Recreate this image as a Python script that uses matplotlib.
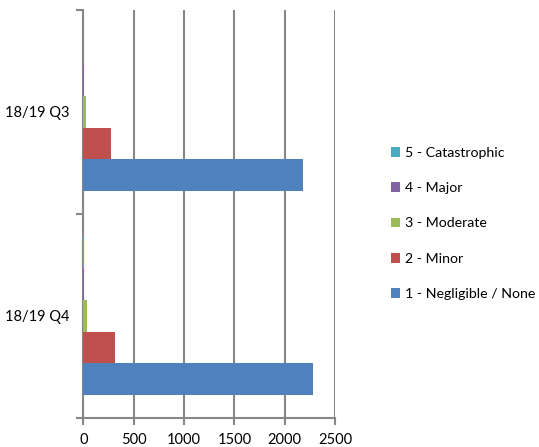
import matplotlib
matplotlib.use("Agg")
import matplotlib.pyplot as plt
from matplotlib.patches import Patch
import numpy as np

plt.rcParams['font.family'] = ['Lato', 'DejaVu Sans']

categories = ["18/19 Q4", "18/19 Q3"]
series_names = ["1 - Negligible / None", "2 - Minor", "3 - Moderate",
                "4 - Major", "5 - Catastrophic"]
negligible = [2284, 2185]
minor = [318, 275]
moderate = [34, 25]
major = [10, 3]
catastrophic = [2, 1]
series_values = [negligible, minor, moderate, major, catastrophic]
colors = ["#4F81BD", "#C0504D", "#9BBB59", "#8064A2", "#4BACC6"]
xticks = [0, 500, 1000, 1500, 2000, 2500]

W, H = 539, 447
fig = plt.figure(figsize=(W / 100, H / 100), dpi=100)
ax = fig.add_axes([83.3 / W, (H - 418) / H, (335 - 83.3) / W, (418 - 10) / H])

y = np.arange(len(categories))
bar_h = 0.1544
for i, (vals, c) in enumerate(zip(series_values, colors)):
    ax.barh(y + (i - 2) * bar_h, vals, height=bar_h, color=c,
            linewidth=0, zorder=3)

grid_c = "#878787"
ax.set_xlim(0, 2500)
ax.set_ylim(-0.5, len(categories) - 0.5)
ax.set_xticks(xticks)
ax.set_xticklabels([str(v) for v in xticks], fontsize=10.5, color="#000000")
ax.xaxis.grid(True, color=grid_c, linewidth=1.5, zorder=0)
ax.set_axisbelow(True)

ax.set_yticks(np.arange(-0.5, len(categories), 1.0))
ax.set_yticklabels([])
ax.set_yticks(y, minor=True)
ax.set_yticklabels(categories, minor=True, fontsize=10.5)
ax.tick_params(axis='y', which='minor', length=0, pad=10)
ax.tick_params(axis='y', which='major', length=5, width=1.5, color=grid_c)
ax.tick_params(axis='x', length=5, width=1.5, color=grid_c, pad=6)

for s in ["top", "right"]:
    ax.spines[s].set_visible(False)
for s in ["left", "bottom"]:
    ax.spines[s].set_color(grid_c)
    ax.spines[s].set_linewidth(1.5)

handles = [Patch(facecolor=c, edgecolor="none") for c in colors][::-1]
labels = series_names[::-1]
fig.legend(handles, labels, loc="center left",
           bbox_to_anchor=(391 / W, (H - 223.5) / H),
           frameon=False, fontsize=10.2, handlelength=0.67, handleheight=0.67,
           handletextpad=0.3, labelspacing=1.64, borderpad=0, borderaxespad=0)

fig.savefig("out.png", dpi=100, facecolor="white")
